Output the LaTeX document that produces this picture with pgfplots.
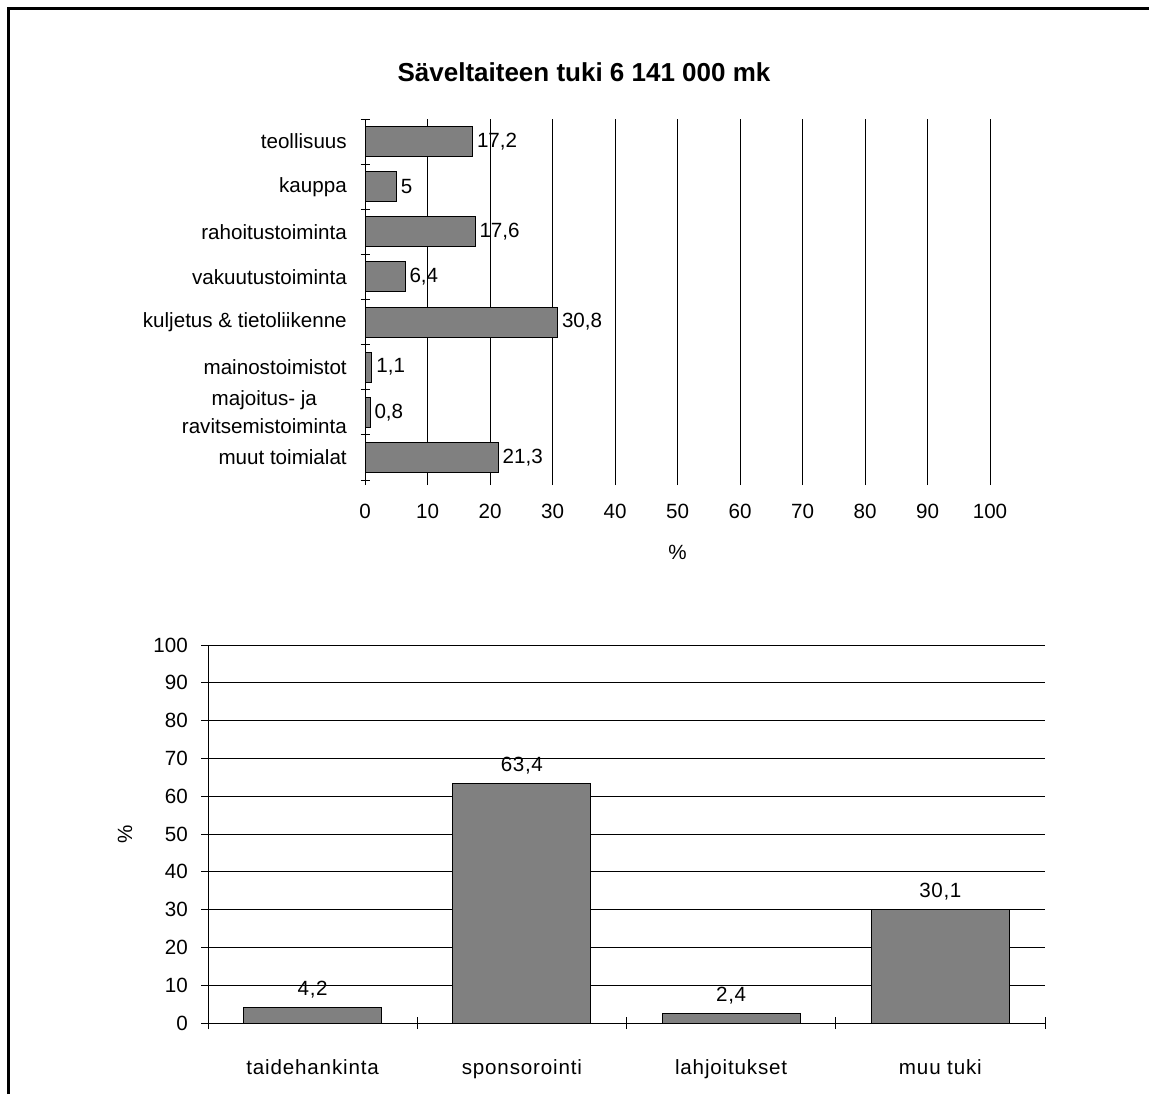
\documentclass[border=0pt]{standalone}
\usepackage{fontspec}
\setmainfont{Liberation Sans}
\usepackage{pgfplots}
\pgfplotsset{compat=1.18}
\definecolor{barfill}{RGB}{128,128,128}
\begin{document}
\fontsize{10.3pt}{12.4pt}\selectfont
\begin{tikzpicture}
\path[use as bounding box] (0,0) rectangle (574.5pt,-547pt);
\draw[line width=1.5pt, line join=miter] (4pt,-547pt) -- (4pt,-4pt) -- (574.5pt,-4pt);
\node[font=\bfseries\fontsize{13pt}{15pt}\selectfont] at (292pt,-36pt) {Säveltaiteen tuki 6 141 000 mk};

% top chart
\begin{axis}[
  at={(182.5pt,-240pt)}, anchor=south west,
  scale only axis, width=312.5pt, height=180.5pt,
  xbar, bar width=15pt,
  xmin=0, xmax=100, ymin=0.5, ymax=8.5, y dir=reverse,
  /pgf/number format/assume math mode=true,
  /pgf/number format/use comma,
  /pgf/number format/1000 sep={},
  xtick={0,10,...,100},
  ytick={1,...,8},
  yticklabels={teollisuus,kauppa,rahoitustoiminta,vakuutustoiminta,kuljetus \& tietoliikenne,mainostoimistot,{majoitus- ja\\ravitsemistoiminta},muut toimialat},
  yticklabel style={align=center, font=\fontsize{10.3pt}{14pt}\selectfont, xshift=-3pt},
  xticklabel style={yshift=-6pt},
  ytick style={draw=none},
  extra y ticks={0.5,1.5,...,8.5},
  extra y tick labels={},
  extra tick style={ytick style={draw=black}, tick align=center, major tick length=4.5pt},
  tick align=outside, major tick length=2.5pt,
  tick style={black, line width=0.5pt},
  axis lines*=left, separate axis lines,
  x axis line style={draw=none},
  y axis line style={black, line width=0.5pt},
  xmajorgrids, grid style={black, line width=0.5pt},
  xlabel={\%},
  xlabel style={at={(axis description cs:0.5,-0.1994)}, anchor=center},
  nodes near coords,
  nodes near coords style={inner sep=2pt, /pgf/number format/assume math mode=true, /pgf/number format/use comma},
]
\addplot[fill=barfill, draw=black, line width=0.5pt] coordinates {
(17.2,1) (5,2) (17.6,3) (6.4,4) (30.8,5) (1.1,6) (0.8,7) (21.3,8)};
\end{axis}

% bottom chart
\begin{axis}[
  at={(104pt,-511.5pt)}, anchor=south west,
  scale only axis, width=418.5pt, height=189pt,
  ybar, bar width=69pt,
  xmin=0.5, xmax=4.5, ymin=0, ymax=100,
  /pgf/number format/assume math mode=true,
  /pgf/number format/use comma,
  /pgf/number format/1000 sep={},
  ytick={0,10,...,100},
  xtick={1,2,3,4},
  xticklabels={taidehankinta,sponsorointi,lahjoitukset,muu tuki},
  xticklabel style={font=\addfontfeature{LetterSpace=4}, yshift=-11pt},
  yticklabel style={xshift=-3pt},
  xtick style={draw=none},
  extra x ticks={0.5,1.5,2.5,3.5,4.5},
  extra x tick labels={},
  extra tick style={xtick style={draw=black}, tick align=center, major tick length=6pt},
  tick align=outside, major tick length=3.5pt,
  tick style={black, line width=0.5pt},
  axis lines*=left, separate axis lines,
  axis line style={black, line width=0.5pt},
  ymajorgrids, grid style={black, line width=0.5pt},
  ylabel={\%},
  ylabel style={at={(axis description cs:-0.0992,0.5)}, anchor=center},
  nodes near coords,
  nodes near coords style={yshift=1pt, font=\addfontfeature{LetterSpace=3}, /pgf/number format/assume math mode=true, /pgf/number format/use comma},
]
\addplot[fill=barfill, draw=black, line width=0.5pt] coordinates {
(1,4.2) (2,63.4) (3,2.4) (4,30.1)};
\end{axis}
\end{tikzpicture}
\end{document}
